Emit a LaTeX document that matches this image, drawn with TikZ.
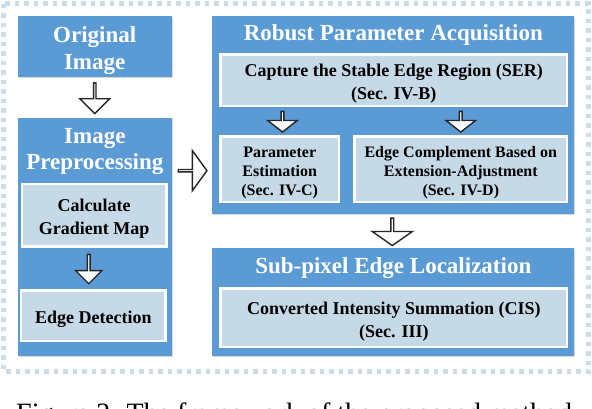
\documentclass[tikz,border=0pt]{standalone}
\usepackage{fontspec}
\setmainfont{Liberation Serif}
\usetikzlibrary{shapes.arrows,shadows}
\definecolor{boxblue}{HTML}{5B9BD5}
\definecolor{paleblue}{HTML}{C6D9E7}
\definecolor{framedot}{HTML}{C9DCEB}
% invisible strut that lowers the lines of a box a little
\newcommand{\up}{\rule{0pt}{1.07em}}

\begin{document}
\begin{tikzpicture}[
  x=1pt,y=-1pt,
  stage/.style={
    fill=boxblue,
    inner sep=0pt,
    drop shadow={shadow xshift=1pt,shadow yshift=-1pt,opacity=.3}
  },
  heading/.style={
    text=white,
    align=center,
    inner sep=0pt,
    font=\bfseries\fontsize{23}{26.7}\selectfont
  },
  task/.style={
    draw=white,
    line width=2.5pt,
    fill=paleblue,
    inner sep=0pt,
    align=center,
    font=\bfseries\fontsize{18}{23}\selectfont,
    drop shadow={shadow xshift=1.2pt,shadow yshift=-1.2pt,opacity=.35}
  },
  hollow/.style={
    single arrow,
    draw=black!85,
    line width=1.4pt,
    fill=white,
    inner sep=0pt
  },
  frame/.style={line width=4.5pt,framedot,dash pattern=on 4.5pt off 5pt}
]
  \useasboundingbox (0,0) rectangle (592,408);

  % Dotted frame round the whole framework.
  \draw[frame] (3.5,3.5) rectangle (588.5,371.5);

  % Left column: input and preprocessing.
  \node[stage,heading,minimum width=154pt,minimum height=61.6pt]
    (orig) at (94.7,46.5) {\up Original\\Image};
  \node[stage,minimum width=154.3pt,minimum height=237.7pt]
    (prep) at (94.85,236.85) {};
  \node[heading] (preptitle) at (94.85,151.5) {Image\\Preprocessing};
  \node[task,minimum width=144.5pt,minimum height=62.5pt]
    (calc) at (94.2,215.2) {\up Calculate\\Gradient Map};
  \node[task,minimum width=144.2pt,minimum height=50.8pt]
    (edet) at (93.3,315.7) {\up Edge Detection};

  % Right column: parameter acquisition and localization.
  \node[stage,minimum width=362pt,minimum height=198.6pt]
    (rpa) at (393.3,115) {};
  \node[heading] (rpatitle) at (393.3,35) {Robust Parameter Acquisition};
  \node[task,minimum width=346.5pt,minimum height=51.5pt]
    (ser) at (393.8,80.3)
    {\up Capture the Stable Edge Region (SER)\\(Sec. IV-B)};
  \node[task,minimum width=118.2pt,minimum height=65.8pt,
        font=\bfseries\fontsize{16}{19}\selectfont]
    (pest) at (279.7,169.2) {\up Parameter\\Estimation\\(Sec. IV-C)};
  \node[task,minimum width=212.5pt,minimum height=65.8pt,
        font=\bfseries\fontsize{16}{19}\selectfont]
    (ecomp) at (460.8,169.2)
    {\up Edge Complement Based on\\Extension-Adjustment\\(Sec. IV-D)};

  \node[stage,minimum width=362pt,minimum height=107.7pt]
    (sub) at (393.3,302.2) {};
  \node[heading] (subtitle) at (393.3,268) {Sub-pixel Edge Localization};
  \node[task,minimum width=346.5pt,minimum height=58.5pt]
    (cis) at (393.8,317.8)
    {\up Converted Intensity Summation (CIS)\\(Sec. III)};

  % Hollow block arrows between the stages.
  \path (orig.south) -- (prep.north)
    node[hollow,midway,shape border rotate=270,minimum height=30.7pt,
         minimum width=29.7pt,single arrow head extend=8pt] (a1) {};
  \path ([xshift=-5pt]calc.south) -- ([xshift=-5pt]edet.north)
    node[hollow,midway,shape border rotate=270,minimum height=29.4pt,
         minimum width=26.3pt,single arrow head extend=6.2pt] (a2) {};
  \path ([yshift=66.2pt]prep.east) -- ([yshift=-55.7pt]rpa.west)
    node[hollow,midway,minimum height=28.7pt,minimum width=40pt,
         single arrow head extend=10.9pt,single arrow tip angle=108] (a3) {};
  \path ([xshift=2.8pt]ser.south -| pest.north) -- ([xshift=2.8pt]pest.north)
    node[hollow,midway,shape border rotate=270,minimum height=20.6pt,
         minimum width=29.5pt,single arrow head extend=6.8pt,
         single arrow tip angle=104] (a4) {};
  \path (ser.south -| ecomp.north) -- (ecomp.north)
    node[hollow,midway,shape border rotate=270,minimum height=20.6pt,
         minimum width=29.5pt,single arrow head extend=6.8pt,
         single arrow tip angle=104] (a5) {};
  \path ([xshift=-1pt]rpa.south) -- ([xshift=-1pt]sub.north)
    node[hollow,midway,shape border rotate=270,minimum height=27.4pt,
         minimum width=40pt,single arrow head extend=9.2pt,
         single arrow tip angle=110] (a6) {};

  % Caption, cut by the lower edge.
  \node[anchor=base west,inner sep=0pt,font=\fontsize{28}{32}\selectfont]
    (caption) at (16,422) {Figure 2. The framework of the proposed method};
\end{tikzpicture}
\end{document}
